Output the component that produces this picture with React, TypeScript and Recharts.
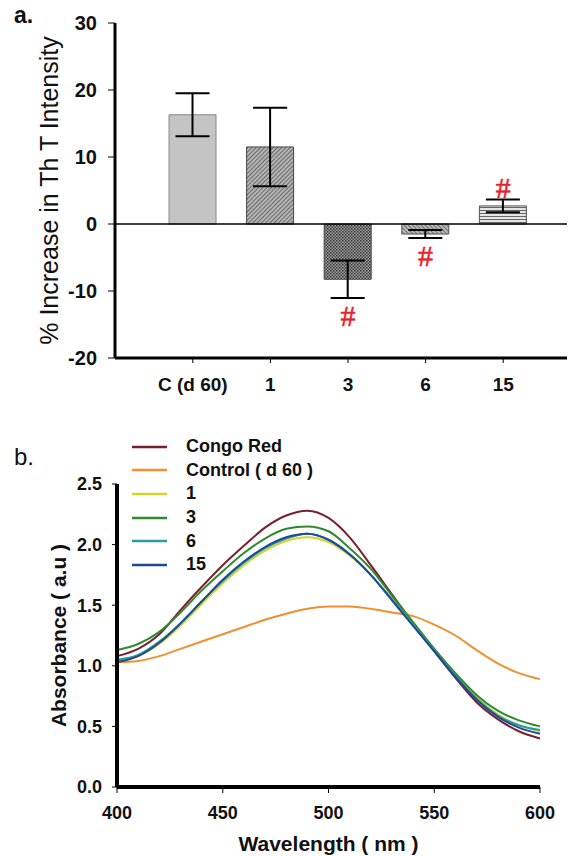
import React from 'react'
import {
  BarChart,
  Bar,
  Cell,
  ErrorBar,
  XAxis,
  YAxis,
  ReferenceLine,
  ReferenceDot,
  Label,
  LineChart,
  Line,
  Legend,
} from 'recharts'

const FONT = "Arial, 'Liberation Sans', sans-serif"

// panel a: % increase in ThT intensity
const groups = ['C (d 60)', '1', '3', '6', '15']
const increase = [16.3, 11.5, -8.25, -1.5, 2.7]
const increaseErr = [3.2, 5.85, 2.8, 0.6, 0.95]
const marks = ['', '', '#', '#', '#']
const barFills = ['url(#solidGray)', 'url(#hatchA)', 'url(#crossHatch)', 'url(#hatchB)', 'url(#horizLines)']
const barStrokes = ['#888', '#444', '#444', '#555', '#555']
const incTicks = [-20, -10, 0, 10, 20, 30]

// panel b: absorbance spectra
const wavelengths = [400, 410, 420, 430, 440, 450, 460, 470, 480, 490, 500, 510, 520, 530, 540, 550, 560, 570, 580, 590, 600]
const congoRed = [1.08, 1.14, 1.26, 1.46, 1.65, 1.83, 1.99, 2.14, 2.24, 2.28, 2.22, 2.06, 1.83, 1.59, 1.35, 1.12, 0.9, 0.7, 0.56, 0.46, 0.4]
const control = [1.03, 1.04, 1.08, 1.14, 1.2, 1.26, 1.32, 1.38, 1.43, 1.47, 1.49, 1.49, 1.47, 1.44, 1.41, 1.34, 1.25, 1.13, 1.02, 0.94, 0.89]
const day1 = [1.04, 1.08, 1.18, 1.33, 1.51, 1.68, 1.83, 1.95, 2.03, 2.06, 2.02, 1.91, 1.75, 1.55, 1.35, 1.14, 0.93, 0.74, 0.6, 0.51, 0.46]
const day3 = [1.13, 1.18, 1.28, 1.44, 1.62, 1.78, 1.93, 2.05, 2.13, 2.15, 2.11, 1.97, 1.8, 1.58, 1.36, 1.14, 0.94, 0.76, 0.63, 0.55, 0.5]
const day6 = [1.05, 1.09, 1.2, 1.35, 1.53, 1.7, 1.85, 1.97, 2.05, 2.09, 2.04, 1.92, 1.75, 1.55, 1.34, 1.13, 0.92, 0.73, 0.59, 0.51, 0.47]
const day15 = [1.03, 1.08, 1.19, 1.35, 1.53, 1.71, 1.86, 1.98, 2.06, 2.09, 2.04, 1.92, 1.75, 1.54, 1.33, 1.12, 0.91, 0.72, 0.58, 0.49, 0.44]
const absTicks = [0, 0.5, 1, 1.5, 2, 2.5]
const wlTicks = [400, 450, 500, 550, 600]

const seriesNames = ['Congo Red', 'Control ( d 60 )', '1', '3', '6', '15']
const seriesKeys = ['congo', 'control', 'd1', 'd3', 'd6', 'd15']
const seriesColors = ['#7a1f2e', '#f0902e', '#d2d62a', '#2e8a2e', '#2a9e9a', '#1f4a98']

const barData = groups.map((g, i) => ({ group: g, value: increase[i], err: increaseErr[i] }))

const specData = wavelengths.map((wl, i) => ({
  wl,
  congo: congoRed[i],
  control: control[i],
  d1: day1[i],
  d3: day3[i],
  d6: day6[i],
  d15: day15[i],
}))

function Patterns() {
  return (
    <svg width={0} height={0} style={{ position: 'absolute' }}>
      <defs>
        <pattern id="solidGray" width="4" height="4" patternUnits="userSpaceOnUse">
          <rect width="4" height="4" fill="#c4c4c4" />
        </pattern>
        <pattern id="hatchA" width="3" height="3" patternUnits="userSpaceOnUse" patternTransform="rotate(45)">
          <rect width="3" height="3" fill="#b4b4b4" />
          <line x1="0" y1="0" x2="0" y2="3" stroke="#444" strokeWidth="1.3" />
        </pattern>
        <pattern id="crossHatch" width="3" height="3" patternUnits="userSpaceOnUse">
          <rect width="3" height="3" fill="#a0a0a0" />
          <rect width="1.5" height="1.5" fill="#333" />
          <rect x="1.5" y="1.5" width="1.5" height="1.5" fill="#444" />
        </pattern>
        <pattern id="hatchB" width="3" height="3" patternUnits="userSpaceOnUse" patternTransform="rotate(-45)">
          <rect width="3" height="3" fill="#bababa" />
          <line x1="0" y1="0" x2="0" y2="3" stroke="#484848" strokeWidth="1.3" />
        </pattern>
        <pattern id="horizLines" width="4" height="3" patternUnits="userSpaceOnUse">
          <rect width="4" height="3" fill="#e4e4e4" />
          <line x1="0" y1="0.5" x2="4" y2="0.5" stroke="#666" strokeWidth="1" />
        </pattern>
      </defs>
    </svg>
  )
}

function IncreaseLabel({ viewBox }: any) {
  const cx = (viewBox?.x ?? 0) + 49
  const cy = (viewBox?.y ?? 23) + (viewBox?.height ?? 335) / 2
  return (
    <text x={cx} y={cy} transform={`rotate(-90, ${cx}, ${cy})`} textAnchor="middle" dominantBaseline="central"
      fontFamily={FONT} fontSize={25} fill="#111">
      % Increase in Th T Intensity
    </text>
  )
}

function AbsLabel({ viewBox }: any) {
  const cx = (viewBox?.x ?? 0) + 58
  const cy = (viewBox?.y ?? 84) + (viewBox?.height ?? 303) / 2
  return (
    <text x={cx} y={cy} transform={`rotate(-90, ${cx}, ${cy})`} textAnchor="middle" dominantBaseline="central"
      fontFamily={FONT} fontSize={21} fontWeight="bold" fill="#111">
      Absorbance ( a.u )
    </text>
  )
}

function WlLabel({ viewBox }: any) {
  const cx = (viewBox?.x ?? 117) + (viewBox?.width ?? 423) / 2
  const cy = (viewBox?.y ?? 387) + 56
  return (
    <text x={cx} y={cy} textAnchor="middle" dominantBaseline="central"
      fontFamily={FONT} fontSize={21} fontWeight="bold" fill="#111">
      Wavelength ( nm )
    </text>
  )
}

function HashMark({ viewBox, below, text }: any) {
  const cx = (viewBox?.x ?? 0) + (viewBox?.width ?? 0) / 2
  const cy = (viewBox?.y ?? 0) + (below ? 17 : -12)
  return (
    <text x={cx} y={cy} textAnchor="middle" dominantBaseline="central"
      fontFamily="'Liberation Serif', 'Times New Roman', serif" fontSize={30}
      fill="#e8202a" stroke="#e8202a" strokeWidth={0.5}>
      {text}
    </text>
  )
}

function SpecLegend({ payload }: any) {
  const items = [...(payload || [])].sort(
    (a: any, b: any) => seriesNames.indexOf(a.value) - seriesNames.indexOf(b.value)
  )
  return (
    <div style={{ fontFamily: FONT }}>
      {items.map((p: any) => (
        <div key={p.value} style={{ display: 'flex', alignItems: 'center', height: 23.6 }}>
          <svg width={35} height={6} style={{ marginRight: 19 }}>
            <line x1={0} y1={3} x2={35} y2={3} stroke={p.color} strokeWidth={2.5} />
          </svg>
          <span style={{ fontSize: 18, fontWeight: 'bold', color: '#111', whiteSpace: 'nowrap' }}>{p.value}</span>
        </div>
      ))}
    </div>
  )
}

const tickA = { fill: '#111', fontSize: 20, fontWeight: 'bold' as const, fontFamily: FONT }
const tickAx = { fill: '#111', fontSize: 19, fontWeight: 'bold' as const, fontFamily: FONT }
const tickB = { fill: '#111', fontSize: 18, fontWeight: 'bold' as const, fontFamily: FONT }

export default function App() {
  return (
    <div style={{ position: 'absolute', left: 0, top: 0, width: 572, height: 856, background: '#fff', fontFamily: FONT }}>
      <Patterns />
      <div style={{ position: 'absolute', left: 14, top: 2, fontSize: 23, fontWeight: 'bold', color: '#111' }}>a.</div>
      <div style={{ position: 'absolute', left: 14, top: 443, fontSize: 24, color: '#111' }}>b.</div>

      <div style={{ position: 'absolute', left: 0, top: 0 }}>
        <BarChart width={572} height={400} data={barData} margin={{ top: 23, right: 5, bottom: 0, left: 0 }}>
          <XAxis
            dataKey="group"
            height={42}
            padding={{ left: 39, right: 25 }}
            axisLine={{ stroke: '#000', strokeWidth: 3 }}
            tickLine={{ stroke: '#000', strokeWidth: 1 }}
            tickSize={5}
            tickMargin={15}
            tick={tickAx}
            interval={0}
          />
          <YAxis
            width={115}
            domain={[-20, 30]}
            ticks={incTicks}
            allowDataOverflow
            axisLine={{ stroke: '#000', strokeWidth: 3 }}
            tickLine={{ stroke: '#000', strokeWidth: 1 }}
            tickSize={7}
            tickMargin={11}
            tick={tickA}
            label={<Label content={<IncreaseLabel />} />}
          />
          <ReferenceLine y={0} stroke="#000" strokeWidth={1.5} />
          <Bar dataKey="value" barSize={47} strokeWidth={1} isAnimationActive={false}>
            {barData.map((d, i) => (
              <Cell key={d.group} fill={barFills[i]} stroke={barStrokes[i]} />
            ))}
            <ErrorBar dataKey="err" width={17} stroke="#000" strokeWidth={2} />
          </Bar>
          {barData.map((d, i) =>
            marks[i] ? (
              <ReferenceDot
                key={'m' + d.group}
                x={d.group}
                y={d.value < 0 ? d.value - d.err : d.value + d.err}
                r={0}
                fill="none"
                stroke="none"
                label={<Label content={<HashMark below={d.value < 0} text={marks[i]} />} />}
              />
            ) : null
          )}
        </BarChart>
      </div>

      <div style={{ position: 'absolute', left: 0, top: 400 }}>
        <LineChart width={572} height={456} data={specData} margin={{ top: 84, right: 32, bottom: 0, left: 0 }}>
          <XAxis
            dataKey="wl"
            type="number"
            domain={[400, 600]}
            ticks={wlTicks}
            height={69}
            axisLine={{ stroke: '#000', strokeWidth: 4 }}
            tickLine={{ stroke: '#000', strokeWidth: 1 }}
            tickSize={6}
            tickMargin={13}
            tick={tickB}
            label={<Label content={<WlLabel />} />}
          />
          <YAxis
            width={117}
            domain={[0, 2.5]}
            ticks={absTicks}
            tickFormatter={(v: number) => v.toFixed(1)}
            axisLine={{ stroke: '#000', strokeWidth: 4 }}
            tickLine={{ stroke: '#000', strokeWidth: 1 }}
            tickSize={5}
            tickMargin={10}
            tick={tickB}
            label={<Label content={<AbsLabel />} />}
          />
          <Legend
            layout="vertical"
            align="center"
            verticalAlign="middle"
            content={<SpecLegend />}
            wrapperStyle={{ position: 'absolute', top: 35, left: 132, width: 260 }}
          />
          {seriesKeys.map((k, i) => (
            <Line
              key={k}
              dataKey={k}
              name={seriesNames[i]}
              type="monotone"
              stroke={seriesColors[i]}
              strokeWidth={2}
              dot={false}
              isAnimationActive={false}
            />
          ))}
        </LineChart>
      </div>
    </div>
  )
}
